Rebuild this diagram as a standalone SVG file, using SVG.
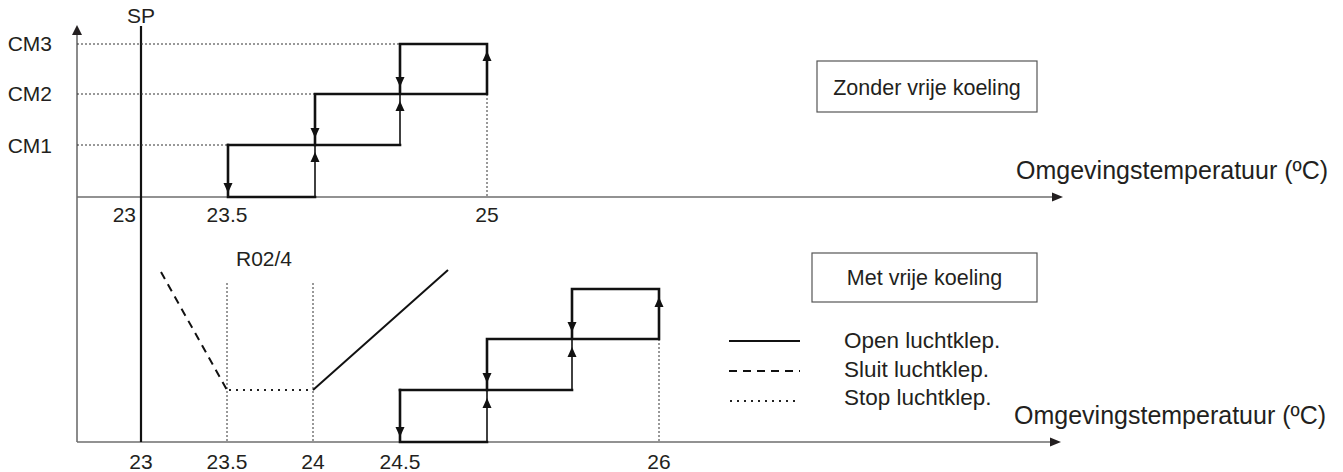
<svg xmlns="http://www.w3.org/2000/svg" width="1343" height="472" viewBox="0 0 1343 472">
<style>
text{font-family:"Liberation Sans",Arial,sans-serif;font-size:21px;fill:#231f20}
.big{font-size:25px}
.leg{font-size:22.5px}
.ax{stroke:#6e6e6e;stroke-width:1.6;fill:none}
.ah{fill:#231f20}
.sp{stroke:#111;stroke-width:2.2}
.dot{stroke:#333;stroke-width:1;stroke-dasharray:2 2;fill:none}
.dot2{stroke:#222;stroke-width:2;stroke-dasharray:2 5;fill:none}
.thk{stroke:#111;stroke-width:2.6;fill:none;stroke-linecap:square}
.thn{stroke:#111;stroke-width:1.6;fill:none}
.box{fill:#fff;stroke:#555;stroke-width:1.2}
.dash{stroke:#111;stroke-width:2;stroke-dasharray:8 6;fill:none}
.sol{stroke:#111;stroke-width:2;fill:none}
</style>
<defs>
<path id="au" d="M0,0 L4.5,10 L-4.5,10 Z" fill="#111"/>
<path id="ad" d="M0,0 L4.5,-10 L-4.5,-10 Z" fill="#111"/>
</defs>
<rect width="1343" height="472" fill="#fff"/>

<g id="axes">
<line class="ax" x1="77" y1="33" x2="77" y2="442"/>
<path class="ah" d="M77,25 L82,35 L72,35 Z"/>
<line class="ax" x1="77" y1="197" x2="1053" y2="197"/>
<path class="ah" d="M1063,197 L1052,192.5 L1052,201.5 Z"/>
<line class="ax" x1="77" y1="442" x2="1051" y2="442"/>
<path class="ah" d="M1061,442 L1050,437.5 L1050,446.5 Z"/>
<line class="sp" x1="141" y1="26" x2="141" y2="442"/>
</g>

<g id="labels">
<text x="141" y="23" text-anchor="middle">SP</text>
<text x="52" y="51" text-anchor="end">CM3</text>
<text x="52" y="101" text-anchor="end">CM2</text>
<text x="52" y="153" text-anchor="end">CM1</text>
<text x="136" y="222" text-anchor="end">23</text>
<text x="227" y="222" text-anchor="middle">23.5</text>
<text x="487" y="222" text-anchor="middle">25</text>
<text x="141" y="469" text-anchor="middle">23</text>
<text x="227" y="469" text-anchor="middle">23.5</text>
<text x="313" y="469" text-anchor="middle">24</text>
<text x="400" y="469" text-anchor="middle">24.5</text>
<text x="659" y="469" text-anchor="middle">26</text>
<text x="236" y="266">R02/4</text>
<text class="big" x="1016" y="179">Omgevingstemperatuur (ºC)</text>
<text class="big" x="1014" y="424">Omgevingstemperatuur (ºC)</text>
</g>

<g id="box-zonder">
<rect class="box" x="817" y="61" width="220" height="51"/>
<text x="927" y="95" text-anchor="middle" style="font-size:21.5px">Zonder vrije koeling</text>
</g>
<g id="box-met">
<rect class="box" x="812" y="253" width="225" height="49"/>
<text x="924.5" y="285" text-anchor="middle" style="font-size:21.5px">Met vrije koeling</text>
</g>

<g id="legend">
<line class="sol" x1="729" y1="341" x2="800" y2="341" stroke-width="2.4"/>
<line class="dash" x1="729" y1="371" x2="800" y2="371" stroke-dasharray="11 9"/>
<line class="dot2" x1="730" y1="401" x2="800" y2="401" stroke-dasharray="2 6"/>
<text class="leg" x="844" y="348">Open luchtklep.</text>
<text class="leg" x="844" y="377">Sluit luchtklep.</text>
<text class="leg" x="844" y="405">Stop luchtklep.</text>
</g>

<g id="top-chart">
<line class="dot" x1="77" y1="44" x2="400" y2="44"/>
<line class="dot" x1="77" y1="94" x2="315" y2="94"/>
<line class="dot" x1="77" y1="145" x2="228" y2="145"/>
<line class="dot" x1="487" y1="94" x2="487" y2="197"/>
<path class="thk" d="M228,145 L228,197 L315,197"/>
<path class="thk" d="M228,145 L400,145"/>
<path class="thk" d="M315,145 L315,94 L487,94 L487,44 L400,44 L400,94"/>
<path class="thn" d="M315,197 L315,145"/>
<path class="thn" d="M400,145 L400,94"/>
<use href="#ad" x="228" y="193"/>
<use href="#au" x="315" y="152"/>
<use href="#ad" x="315" y="138"/>
<use href="#au" x="400" y="101"/>
<use href="#ad" x="400" y="87"/>
<use href="#au" x="487" y="51"/>
</g>

<g id="bottom-chart">
<line class="dot" x1="227" y1="283" x2="227" y2="442"/>
<line class="dot" x1="313" y1="283" x2="313" y2="442"/>
<line class="dot2" x1="229" y1="390" x2="313" y2="390"/>
<line class="dash" x1="161" y1="272" x2="227" y2="390"/>
<line class="sol" x1="313" y1="390" x2="448" y2="270"/>
<line class="dot" x1="659" y1="339" x2="659" y2="442"/>
<path class="thk" d="M400,390 L400,442 L487,442"/>
<path class="thk" d="M400,390 L572,390"/>
<path class="thk" d="M487,390 L487,339 L659,339 L659,289 L572,289 L572,339"/>
<path class="thn" d="M487,442 L487,390"/>
<path class="thn" d="M572,390 L572,339"/>
<use href="#ad" x="400" y="437"/>
<use href="#au" x="487" y="398"/>
<use href="#ad" x="487" y="383"/>
<use href="#au" x="572" y="347"/>
<use href="#ad" x="572" y="332"/>
<use href="#au" x="659" y="297"/>
</g>
</svg>
